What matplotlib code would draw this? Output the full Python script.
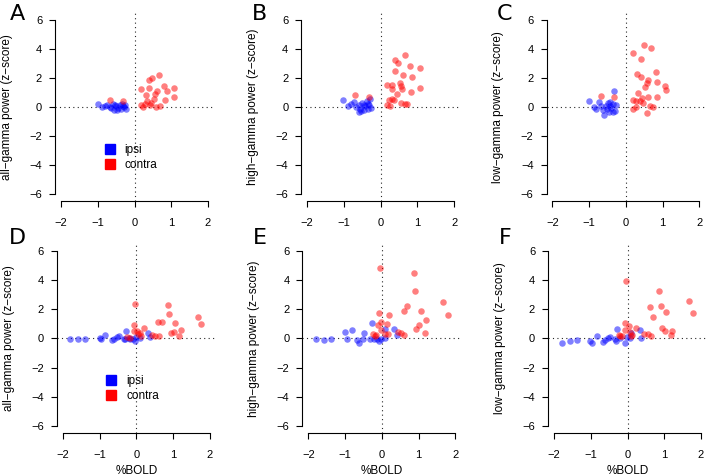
import matplotlib
matplotlib.use("Agg")
import matplotlib.pyplot as plt
from matplotlib.lines import Line2D

plt.rcParams['font.family'] = ['Liberation Sans', 'DejaVu Sans']
plt.rcParams['axes.unicode_minus'] = True

# panel A: all-gamma, top row
a_ipsi_x = [-0.99, -0.88, -0.80, -0.74, -0.66, -0.63, -0.58, -0.56, -0.52, -0.47, -0.45, -0.40, -0.36, -0.34, -0.29, -0.25, -0.22, -0.30, -0.50]
a_ipsi_y = [0.23, 0.00, 0.05, 0.14, 0.02, -0.05, 0.25, -0.23, 0.12, -0.20, -0.05, 0.18, -0.16, 0.25, 0.02, 0.18, -0.12, 0.10, 0.05]
a_contra_x = [0.66, 0.48, 0.40, 0.19, 0.40, 0.80, 1.07, 0.88, 0.61, 0.57, 0.32, 0.52, 1.07, 0.84, 0.33, 0.28, 0.46, 0.19, 0.23, 0.59, 0.69, 0.41, -0.68, -0.32]
a_contra_y = [2.20, 1.98, 1.84, 1.24, 1.33, 1.47, 1.29, 1.10, 1.10, 0.92, 0.81, 0.57, 0.71, 0.50, 0.41, 0.25, 0.30, 0.12, 0.02, 0.02, 0.07, 0.18, 0.46, 0.41]

# panel B: high-gamma, top row
b_ipsi_x = [-1.02, -0.90, -0.80, -0.72, -0.66, -0.60, -0.59, -0.55, -0.50, -0.46, -0.42, -0.38, -0.35, -0.31, -0.28, -0.26, -0.52, -0.44, -0.33]
b_ipsi_y = [0.46, 0.07, 0.20, 0.35, 0.00, 0.15, -0.32, -0.10, 0.30, -0.20, 0.05, 0.40, -0.10, 0.15, 0.53, -0.05, -0.25, 0.12, 0.25]
b_contra_x = [0.66, 0.38, 0.48, 0.79, 1.06, 0.39, 0.61, 0.85, 0.18, 0.31, 0.30, 0.52, 0.56, 0.59, 1.06, 0.82, 0.45, 0.32, 0.23, 0.36, 0.56, 0.66, 0.72, 0.18, 0.26, -0.32, -0.70]
b_contra_y = [3.59, 3.22, 3.06, 2.83, 2.69, 2.46, 2.18, 2.09, 1.50, 1.50, 1.22, 1.63, 1.45, 1.26, 1.33, 1.06, 0.90, 0.57, 0.48, 0.46, 0.30, 0.25, 0.25, 0.18, 0.07, 0.71, 0.83]

# panel C: low-gamma, top row
c_ipsi_x = [-1.00, -0.87, -0.80, -0.72, -0.68, -0.62, -0.60, -0.55, -0.50, -0.47, -0.44, -0.40, -0.36, -0.32, -0.30, -0.27, -0.52, -0.42, -0.34]
c_ipsi_y = [0.39, -0.02, -0.15, 0.35, 0.10, -0.20, -0.57, 0.05, 0.30, -0.35, 0.10, -0.05, 0.25, 1.08, -0.25, 0.15, -0.10, 0.35, -0.30]
c_contra_x = [0.49, 0.67, 0.18, 0.40, 0.81, 0.31, 0.41, 0.61, 0.57, 0.85, 0.53, 1.07, 1.08, 0.34, 0.59, 0.85, 0.43, 0.18, 0.27, 0.38, 0.47, 0.66, 0.73, 0.20, 0.27, 0.57, -0.32, -0.69]
c_contra_y = [4.25, 4.07, 3.70, 3.31, 2.43, 2.28, 2.05, 1.86, 1.66, 1.72, 1.36, 1.47, 1.15, 0.94, 0.71, 0.67, 0.62, 0.46, 0.44, 0.40, 0.28, 0.07, -0.02, -0.14, 0.02, -0.41, 0.67, 0.74]

# panel D: all-gamma, bottom row
d_ipsi_x = [-1.80, -1.59, -1.39, -1.00, -0.95, -0.84, -0.66, -0.62, -0.53, -0.48, -0.34, -0.30, -0.27, -0.20, -0.16, -0.09, -0.04, -0.01, 0.10, 0.32, 0.38]
d_ipsi_y = [-0.06, -0.06, -0.01, 0.06, -0.06, 0.26, -0.10, -0.01, 0.12, 0.17, -0.01, -0.06, 0.54, 0.00, -0.01, -0.06, -0.15, 0.12, 0.05, 0.40, 0.10]
d_contra_x = [-0.04, 0.86, 0.90, 0.70, 0.59, 1.06, 1.67, 1.77, -0.07, 0.20, 1.22, 1.02, 0.94, -0.07, 0.02, 0.10, 1.17, 0.43, 0.51, 0.61, -0.25, -0.16, 0.14, 0.05]
d_contra_y = [2.37, 2.30, 1.66, 1.16, 1.14, 1.09, 1.48, 1.02, 0.93, 0.70, 0.58, 0.45, 0.40, 0.52, 0.54, 0.40, 0.17, 0.24, 0.20, 0.17, 0.12, 0.05, 0.17, 0.30]

# panel E: high-gamma, bottom row
e_ipsi_x = [-1.78, -1.58, -1.37, -0.99, -0.82, -0.95, -0.67, -0.62, -0.48, -0.50, -0.33, -0.27, -0.20, -0.13, -0.01, 0.09, 0.08, 0.32, 0.40, -0.07]
e_ipsi_y = [-0.06, -0.10, -0.06, 0.45, 0.56, -0.01, -0.08, -0.29, 0.40, -0.05, -0.06, 1.07, -0.06, -0.06, -0.01, 0.05, 0.68, 0.68, 0.26, -0.20]
e_contra_x = [-0.04, 0.87, 0.89, 1.67, 1.80, 0.69, 0.60, 1.06, -0.08, 0.20, 1.21, 1.01, 0.94, 1.18, 0.13, -0.01, -0.10, -0.03, 0.17, 0.08, -0.24, -0.19, -0.15, 0.44, 0.53, 0.60]
e_contra_y = [4.83, 4.51, 3.29, 2.51, 1.64, 2.21, 1.89, 1.89, 1.78, 1.60, 1.25, 0.91, 0.68, 0.38, 1.02, 1.13, 0.91, 0.56, 0.33, 0.28, 0.33, 0.16, 0.25, 0.45, 0.40, 0.26]

# panel F: low-gamma, bottom row
f_ipsi_x = [-1.77, -1.57, -1.37, -1.02, -0.96, -0.82, -0.66, -0.60, -0.52, -0.48, -0.34, -0.28, -0.32, -0.20, -0.08, -0.02, 0.10, 0.33, 0.38, 0.07]
f_ipsi_y = [-0.33, -0.15, -0.10, -0.15, -0.33, 0.17, -0.22, -0.10, 0.05, 0.10, -0.05, 0.64, -0.20, 0.05, -0.33, 0.10, 0.36, 0.60, 0.01, 0.05]
f_contra_x = [-0.03, 0.86, 1.67, 1.79, 0.60, 0.90, 1.06, 0.69, 0.95, 1.02, 1.21, 1.18, -0.07, 0.04, -0.07, 0.22, 0.07, 0.45, 0.56, 0.63, 0.13, 0.09, -0.24, -0.15, -0.20]
f_contra_y = [3.94, 3.27, 2.60, 1.78, 2.17, 2.21, 1.85, 1.50, 0.70, 0.50, 0.50, 0.26, 1.09, 0.86, 0.59, 0.70, 0.43, 0.31, 0.31, 0.20, 0.25, 0.14, 0.21, 0.16, 0.15]

panel_letters = ['A', 'B', 'C', 'D', 'E', 'F']
ylabels = ['all\u2212gamma power (z\u2212score)', 'high\u2212gamma power (z\u2212score)', 'low\u2212gamma power (z\u2212score)'] * 2
xticks = [-2, -1, 0, 1, 2]
yticks = [-6, -4, -2, 0, 2, 4, 6]

panels = [
    (a_ipsi_x, a_ipsi_y, a_contra_x, a_contra_y),
    (b_ipsi_x, b_ipsi_y, b_contra_x, b_contra_y),
    (c_ipsi_x, c_ipsi_y, c_contra_x, c_contra_y),
    (d_ipsi_x, d_ipsi_y, d_contra_x, d_contra_y),
    (e_ipsi_x, e_ipsi_y, e_contra_x, e_contra_y),
    (f_ipsi_x, f_ipsi_y, f_contra_x, f_contra_y),
]

W, H = 708, 476
fig = plt.figure(figsize=(W / 100, H / 100), dpi=100)

# axes rectangles in pixels: left, top
rects = [(55.1, 13), (301.2, 13), (546.5, 13),
         (56.9, 244.3), (302.4, 244.3), (548.1, 244.3)]
aw, ah = 158.8, 188.3
letter_pos = [(17, 14), (260, 14), (505, 14), (17, 238), (260, 238), (505, 238)]

for i, (ix, iy, cx, cy) in enumerate(panels):
    left, top = rects[i]
    ax = fig.add_axes([left / W, 1 - (top + ah) / H, aw / W, ah / H])
    ax.set_xlim(-2.16, 2.16)
    ax.set_ylim(-6.48, 6.48)
    ax.axhline(0, color='0.15', lw=0.8, ls=(0, (1, 3)), zorder=1)
    ax.axvline(0, color='0.15', lw=0.8, ls=(0, (1, 3)), zorder=1)
    ax.scatter(ix, iy, s=22, color='blue', alpha=0.5, linewidths=0, zorder=2)
    ax.scatter(cx, cy, s=22, color='red', alpha=0.5, linewidths=0, zorder=2)

    for s in ['top', 'right']:
        ax.spines[s].set_visible(False)
    ax.spines['left'].set_bounds(-6, 6)
    ax.spines['bottom'].set_bounds(-2, 2)
    for s in ['left', 'bottom']:
        ax.spines[s].set_linewidth(0.8)
    ax.set_xticks(xticks)
    ax.set_yticks(yticks)
    ax.tick_params(direction='out', length=4.3, width=0.8, labelsize=8)
    ax.tick_params(axis='x', pad=8)
    ax.tick_params(axis='y', pad=5)
    ax.set_ylabel(ylabels[i], fontsize=8.5, va='center')
    ax.yaxis.set_label_coords(-48 / aw, 0.5)
    if i >= 3:
        ax.set_xlabel('%BOLD', fontsize=8.5, labelpad=4)

    if i in (0, 3):
        handles = [Line2D([], [], marker='s', ls='none', color='blue', markersize=7.5),
                   Line2D([], [], marker='s', ls='none', color='red', markersize=7.5)]
        ax.legend(handles, ['ipsi', 'contra'], loc='center left',
                  bbox_to_anchor=(0.269, 0.232), frameon=False, borderpad=0,
                  handlelength=1.0, handletextpad=0.75, labelspacing=0.25,
                  fontsize=8.5)

    lx, ly = letter_pos[i]
    fig.text(lx / W, 1 - ly / H, panel_letters[i], fontsize=16,
             ha='center', va='center', family='DejaVu Sans')

fig.savefig('out.png', dpi=100)
